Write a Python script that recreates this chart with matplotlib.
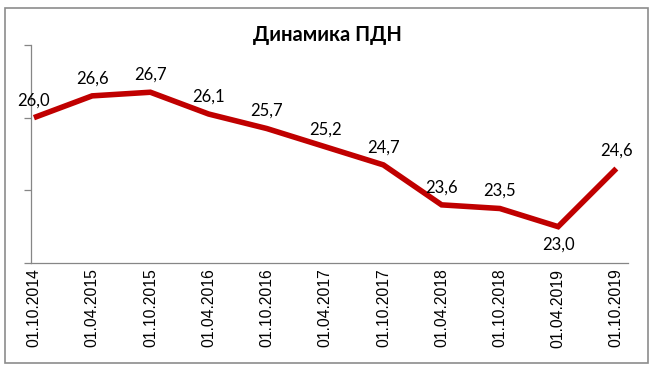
import matplotlib

matplotlib.use("Agg")
import matplotlib.pyplot as plt
from matplotlib.patches import Rectangle

dates = [
    "01.10.2014", "01.04.2015", "01.10.2015", "01.04.2016", "01.10.2016", "01.04.2017",
    "01.10.2017", "01.04.2018", "01.10.2018", "01.04.2019", "01.10.2019",
]
pdn = [26.0, 26.6, 26.7, 26.1, 25.7, 25.2, 24.7, 23.6, 23.5, 23.0, 24.6]
labels = ["26,0", "26,6", "26,7", "26,1", "25,7", "25,2", "24,7", "23,6", "23,5", "23,0", "24,6"]
title = "Динамика ПДН"

W, H = 655, 371
fig = plt.figure(figsize=(W / 100, H / 100), dpi=100)
fig.patch.set_facecolor("white")

# outer chart frame like excel
fig.patches.append(
    Rectangle((5 / W, 1 - 363 / H), 643 / W, 355 / H, transform=fig.transFigure,
              fill=False, edgecolor="#8c8c8c", linewidth=1.2)
)

ax = fig.add_axes([31 / W, 1 - 263 / H, 597 / W, 218 / H])
x = list(range(len(dates)))
ax.plot(x, pdn, color="#c00000", linewidth=4, solid_joinstyle="miter", solid_capstyle="butt")

for i, (v, lab) in enumerate(zip(pdn, labels)):
    below = lab == "23,0"
    ax.annotate(lab, (i, v), xytext=(0, -7 if below else 9), textcoords="offset points",
                ha="center", va="top" if below else "baseline",
                fontsize=12, family="Lato", color="black")

ax.set_xlim(-0.05, 10.2)
ax.set_ylim(22, 28)
ax.set_yticks([22, 24, 26, 28])
ax.set_yticklabels([])
ax.set_xticks(x)
ax.set_xticklabels(dates, rotation=90, fontsize=11.3, family="Liberation Sans", va="top")
ax.tick_params(axis="x", length=0, pad=4)
ax.tick_params(axis="y", direction="out", length=5, width=0.9, color="#868686")

for side in ["top", "right"]:
    ax.spines[side].set_visible(False)
for side in ["left", "bottom"]:
    ax.spines[side].set_color("#868686")
    ax.spines[side].set_linewidth(0.9)

fig.text(327 / W, 1 - 35 / H, title, ha="center", va="center", fontsize=14.5,
         fontweight="bold", family="Lato")

fig.savefig("out.png", dpi=100)
